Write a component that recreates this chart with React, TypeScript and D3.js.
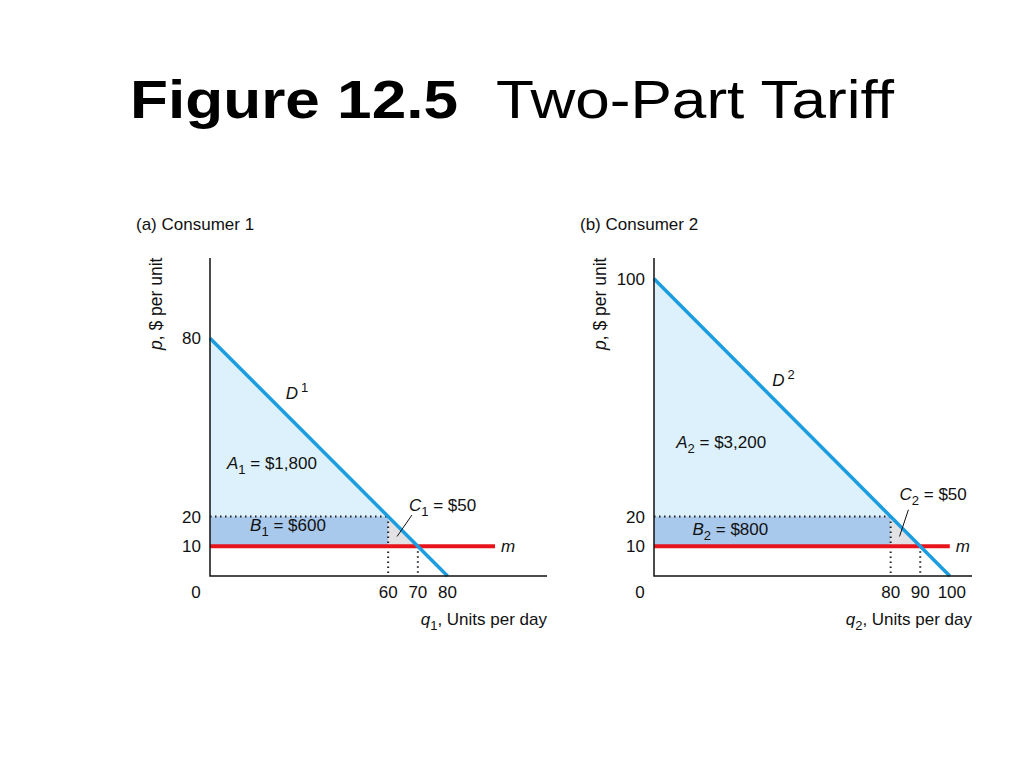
import React from 'react';
import * as d3 from 'd3';

// chart values
const panelTitles = ["(a) Consumer 1", "(b) Consumer 2"];
const demandIntercepts = [80, 100];
const tariffPrice = 20;
const marginalCost = 10;
const qAtPrice = [60, 80];
const qAtCost = [70, 90];
const mLineEnd = [96, 100];
const xDomainEnd = [113.5, 107.5];
const yTicks = [[10, 20, 80], [10, 20, 100]];
const xTicks = [[60, 70, 80], [80, 90, 100]];
const subs = ["1", "2"];
const areaA = ["$1,800", "$3,200"];
const areaB = ["$600", "$800"];
const areaC = ["$50", "$50"];
// label anchors in data units [q, p]
const dLabelAt = [[25.5, 59.5], [40, 64]];
const aLabelAt = [[5.7, 36], [7.5, 43]];
const bLabelAt = [[13.5, 15], [13, 13.7]];
const cLabelAt = [[67, 22], [83, 25.5]];
const cLeaderFrom = [[68, 20.5], [86, 22.3]];
const cLeaderTo = [[63, 13.3], [83, 13.3]];

const panelLeft = [210, 654];
const panelRight = [547, 972];
const axisBottom = 576;
const axisTop = 258;

const font = "'Liberation Sans', Arial, Helvetica, sans-serif";
const blue = "#1b9ddf";
const red = "#e8141c";

function Panel({ i }: { i: number }) {
  const x = d3.scaleLinear().domain([0, xDomainEnd[i]]).range([panelLeft[i], panelRight[i]]);
  const y = d3.scaleLinear().domain([0, 107]).range([axisBottom, axisTop]);
  const line = d3.line<number[]>().x(d => x(d[0])).y(d => y(d[1]));
  const k = demandIntercepts[i];
  const q1 = qAtPrice[i];
  const q2 = qAtCost[i];
  const s = subs[i];
  const ts = 17;

  return (
    <g fontFamily={font} fill="#111">
      <text x={panelLeft[i] - 74} y={230} fontSize={ts}>{panelTitles[i]}</text>
      {/* areas */}
      <path d={line([[0, k], [q1, tariffPrice], [0, tariffPrice]])! + "Z"} fill="#dcf1fc" />
      <path d={line([[0, tariffPrice], [q1, tariffPrice], [q1, marginalCost], [0, marginalCost]])! + "Z"} fill="#a8c8ec" />
      <path d={line([[q1, tariffPrice], [q2, marginalCost], [q1, marginalCost]])! + "Z"} fill="#e2e2e4" />
      {/* dotted guides */}
      <path d={line([[0, tariffPrice], [q1, tariffPrice]])!} stroke="#222" strokeWidth={2} strokeDasharray="1.5 3.5" fill="none" />
      <path d={line([[q1, tariffPrice], [q1, 0]])!} stroke="#222" strokeWidth={2} strokeDasharray="1.5 3.5" fill="none" />
      <path d={line([[q2, marginalCost], [q2, 0]])!} stroke="#222" strokeWidth={2} strokeDasharray="1.5 3.5" fill="none" />
      {/* m line */}
      <path d={line([[0, marginalCost], [mLineEnd[i], marginalCost]])!} stroke={red} strokeWidth={4} fill="none" />
      {/* demand */}
      <path d={line([[0, k], [k, 0]])!} stroke={blue} strokeWidth={3.5} fill="none" />
      {/* axes */}
      <path d={`M${x(0)},${y(107)}V${y(0)}H${x(xDomainEnd[i])}`} stroke="#111" strokeWidth={1.5} fill="none" />
      {yTicks[i].map(t => (
        <text key={t} x={x(0) - 9} y={y(t)} dy="0.35em" textAnchor="end" fontSize={ts}>{t}</text>
      ))}
      <text x={x(0) - 14} y={y(0) + 22} textAnchor="middle" fontSize={ts}>0</text>
      {xTicks[i].map(t => (
        <text key={t} x={x(t) + (t === 100 ? 2 : 0)} y={y(0) + 22} textAnchor="middle" fontSize={ts}>{t}</text>
      ))}
      <text x={x(xDomainEnd[i])} y={625} textAnchor="end" fontSize={ts}>
        <tspan fontStyle="italic">q</tspan>
        <tspan fontSize={13} dy={5}>{s}</tspan>
        <tspan dy={-5}>, Units per day</tspan>
      </text>
      <text transform={`translate(${x(0) - 48},${350}) rotate(-90)`} fontSize={17.5}>
        <tspan fontStyle="italic">p</tspan>, $ per unit
      </text>
      {/* labels */}
      <text x={x(dLabelAt[i][0])} y={y(dLabelAt[i][1])} fontSize={ts}>
        <tspan fontStyle="italic">D</tspan>
        <tspan fontSize={13} dx={3} dy={-7}>{s}</tspan>
      </text>
      <text x={x(aLabelAt[i][0])} y={y(aLabelAt[i][1])} fontSize={ts}>
        <tspan fontStyle="italic">A</tspan>
        <tspan fontSize={13} dy={5}>{s}</tspan>
        <tspan dy={-5}> = {areaA[i]}</tspan>
      </text>
      <text x={x(bLabelAt[i][0])} y={y(bLabelAt[i][1])} fontSize={ts}>
        <tspan fontStyle="italic">B</tspan>
        <tspan fontSize={13} dy={5}>{s}</tspan>
        <tspan dy={-5}> = {areaB[i]}</tspan>
      </text>
      <text x={x(cLabelAt[i][0])} y={y(cLabelAt[i][1])} fontSize={ts}>
        <tspan fontStyle="italic">C</tspan>
        <tspan fontSize={13} dy={5}>{s}</tspan>
        <tspan dy={-5}> = {areaC[i]}</tspan>
      </text>
      <path d={line([cLeaderFrom[i], cLeaderTo[i]])!} stroke="#111" strokeWidth={1} fill="none" />
      <text x={x(mLineEnd[i]) + 6} y={y(marginalCost)} dy="0.35em" fontSize={ts} fontStyle="italic">m</text>
    </g>
  );
}

export default function App() {
  return (
    <svg width={1024} height={768} style={{ position: 'absolute', left: 0, top: 0, background: '#fff' }}>
      <g transform="translate(512,0) scale(1.15,1)">
        <text x={0} y={118} textAnchor="middle" fontFamily={font} fontSize={54} fill="#000">
          <tspan fontWeight="bold">Figure 12.5</tspan>
          <tspan dx={33}>Two-Part Tariff</tspan>
        </text>
      </g>
      <Panel i={0} />
      <Panel i={1} />
    </svg>
  );
}
